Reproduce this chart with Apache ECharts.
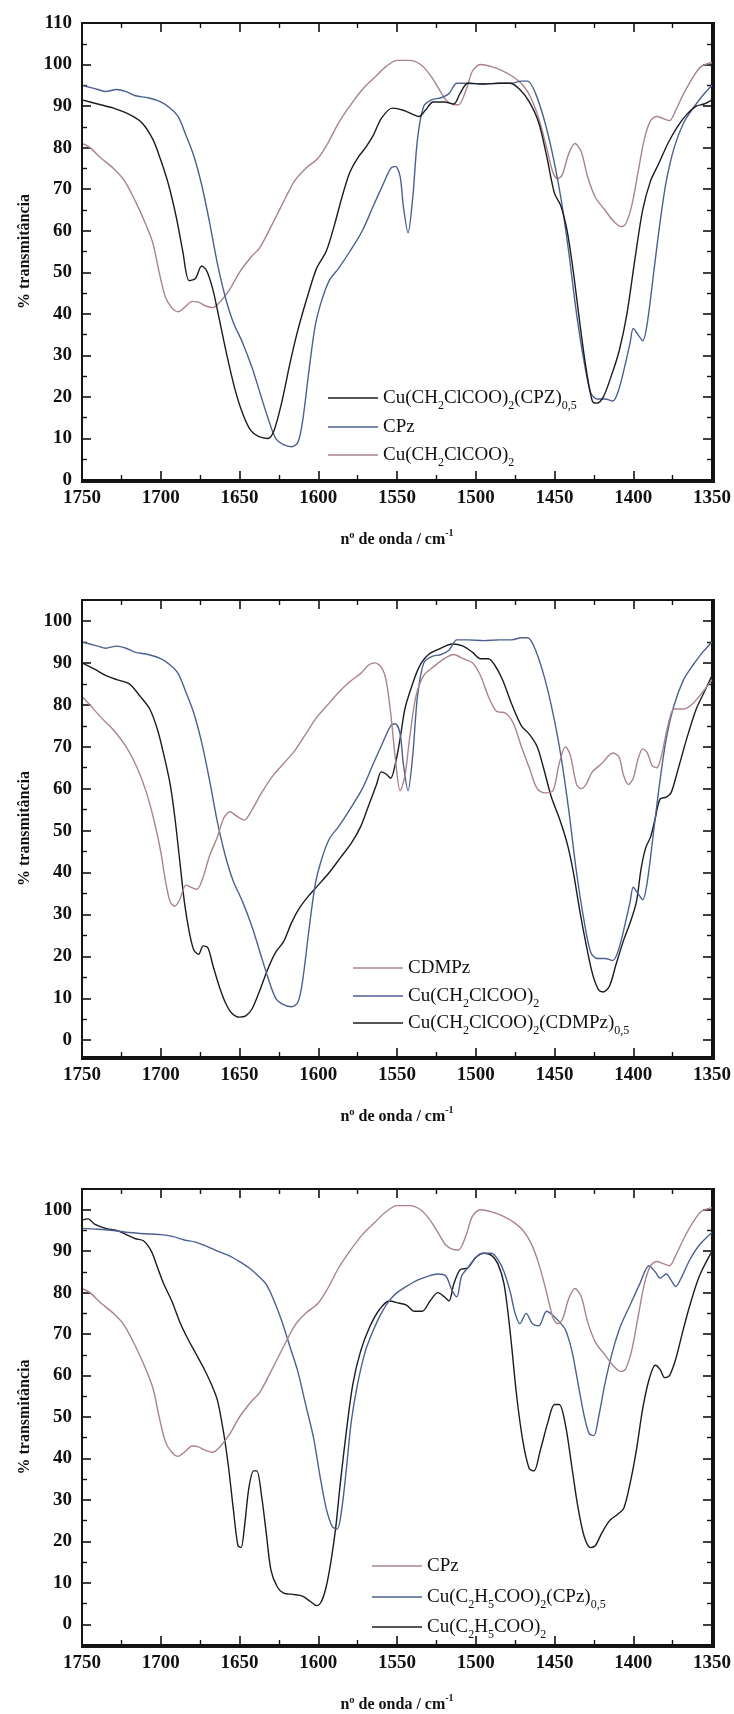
<!DOCTYPE html>
<html>
<head>
<meta charset="utf-8">
<script src="https://cdn.jsdelivr.net/npm/echarts@6/dist/echarts.min.js"></script>
<style>
html,body{margin:0;padding:0;background:#fff;}
#c{width:734px;height:1714px;}
</style>
</head>
<body>
<div id="c"></div>
<script>
// ---------- DATA (wavenumber cm-1, % transmittance) ----------
const xTicks = [1750, 1700, 1650, 1600, 1550, 1500, 1450, 1400, 1350];

// Cu(CH2ClCOO)2(CPZ)0,5  (panel 1, black)
const cuClAcCpzData = [[1750,91.5],[1740,90.5],[1730,89.5],[1720,88],[1712,86],[1705,82],[1700,77],[1695,71],[1690,63],[1686,55],[1682,48],[1678,48.5],[1674,51.5],[1671,50.5],[1667,46],[1663,39],[1658,30],[1653,22],[1648,16],[1643,12],[1638,10.5],[1632,10],[1628,12],[1623,19],[1618,28],[1613,36],[1607,44],[1601,51],[1595,55],[1590,61],[1585,68],[1580,74],[1575,77.5],[1570,80],[1565,83],[1560,87],[1553,89.5],[1546,89],[1540,88],[1536,87.5],[1532,89],[1527,91],[1520,91],[1514,90.5],[1510,93],[1505,95.5],[1495,95.3],[1485,95.5],[1478,95.5],[1472,94],[1466,91],[1460,86],[1455,78],[1450,69],[1446,66],[1442,60],[1438,50],[1434,38],[1430,27],[1426,19],[1423,18.5],[1419,20],[1414,25],[1409,31],[1404,40],[1399,53],[1394,65],[1389,72],[1384,76],[1378,81],[1372,85],[1366,88],[1360,90],[1355,90.5],[1350,91.5]];

// blue spectrum starting at 95 (panel 1 and panel 2)
const cuClAcData = [[1750,95],[1745,94.5],[1740,94],[1735,93.5],[1728,94],[1722,93.5],[1716,92.5],[1708,92],[1700,91],[1694,89.5],[1689,87.5],[1684,83],[1679,78],[1674,71],[1669,62],[1664,52],[1659,44],[1654,38],[1648,33],[1642,27],[1637,21],[1632,15],[1627,10],[1622,8.5],[1617,8],[1613,9],[1610,14],[1606,26],[1602,37],[1598,43],[1593,48],[1587,51],[1580,55],[1572,60],[1565,66],[1559,71],[1554,75],[1551,75.5],[1548,73],[1546,66],[1543,59.5],[1540,68],[1537,82],[1533,90],[1528,91.5],[1522,92],[1517,93],[1512,95.5],[1505,95.5],[1495,95.3],[1485,95.5],[1477,95.5],[1471,96],[1467,96],[1462,93],[1456,86],[1451,78],[1446,68],[1441,55],[1436,40],[1431,28],[1427,21],[1423,19.5],[1418,19.5],[1413,19],[1409,22],[1405,28],[1402,33],[1400,36.5],[1397,35],[1394,33.5],[1391,38],[1387,50],[1383,62],[1379,72],[1374,80],[1368,86],[1362,89.5],[1356,92.5],[1350,95]];

// light spectrum starting at 81 (panel 1 and panel 3)
const cpzData = [[1750,81],[1745,80],[1738,77.5],[1730,75],[1723,72],[1716,67],[1710,62],[1705,57],[1701,50],[1697,44],[1693,41.5],[1689,40.5],[1685,41.5],[1680,43],[1676,42.8],[1672,42],[1667,41.5],[1662,43],[1656,46],[1650,50],[1643,53.5],[1637,56],[1630,61],[1622,67],[1615,72],[1608,75],[1600,77.5],[1594,81],[1587,86],[1580,90],[1572,94],[1564,97],[1557,99.5],[1550,101],[1542,101],[1535,100],[1529,97.5],[1524,94.5],[1519,91.5],[1515,90.5],[1511,90.3],[1506,94],[1502,98.5],[1497,100],[1490,99.5],[1483,98.5],[1476,97],[1470,95],[1465,92],[1460,87],[1455,80],[1451,74],[1448,72.5],[1445,73.5],[1441,78.5],[1437,81],[1433,79],[1429,73],[1424,68],[1418,65],[1413,62.5],[1408,61],[1405,61.5],[1401,66],[1397,74],[1393,82],[1389,86.5],[1385,87.5],[1381,87],[1377,86.5],[1373,89],[1368,93],[1362,97],[1357,99.5],[1350,100.5]];

// CDMPz (panel 2, red)
const cdmpzData = [[1750,82],[1745,80],[1738,77],[1730,74],[1722,70],[1715,65],[1709,59],[1704,52],[1700,45],[1697,38],[1694,33],[1691,32],[1688,33.5],[1684,37],[1681,36.5],[1677,36],[1673,39],[1669,44],[1664,48.5],[1660,53],[1656,54.5],[1652,53.5],[1647,52.5],[1642,55],[1636,59],[1629,63],[1622,66],[1615,69],[1608,73],[1601,77],[1594,80],[1587,83],[1580,85.5],[1573,87.5],[1568,89.5],[1564,90],[1560,89],[1557,86],[1554,78],[1551,67],[1548,59.5],[1545,63],[1542,72],[1538,82],[1533,87],[1527,89],[1520,91],[1514,92],[1508,91],[1502,90],[1497,87],[1492,82],[1487,78.5],[1481,78],[1476,75.5],[1471,70],[1466,65],[1461,60],[1456,59],[1451,59.5],[1447,66],[1443,70],[1440,68],[1436,61],[1433,60],[1430,61],[1426,64],[1420,66],[1413,68.5],[1409,67.5],[1406,63],[1403,61],[1400,62.5],[1397,67],[1394,69.5],[1391,68.5],[1388,65.5],[1385,65],[1382,68],[1378,75],[1374,79],[1368,79],[1363,80],[1356,83],[1350,86]];

// Cu(CH2ClCOO)2(CDMPz)0,5 (panel 2, black)
const cuClAcCdmpzData = [[1750,90],[1742,88.5],[1735,87],[1728,86],[1720,85],[1713,82],[1707,79],[1702,74],[1698,68],[1694,61],[1691,53],[1688,43],[1685,33],[1682,26],[1679,21.5],[1676,20.5],[1673,22.5],[1670,22],[1667,18],[1663,13],[1659,9],[1655,6.5],[1650,5.5],[1646,5.8],[1642,7.5],[1637,12],[1632,17],[1627,21],[1622,23.5],[1617,28],[1612,31.5],[1606,34.5],[1600,37],[1593,40],[1586,43.5],[1579,47],[1573,51],[1568,56],[1563,61],[1560,64],[1557,63.5],[1554,62.5],[1551,66],[1548,72],[1545,79],[1541,84],[1536,89],[1530,92],[1522,93.5],[1515,94.5],[1508,94],[1502,92.5],[1497,91],[1492,91],[1488,89.5],[1483,86],[1477,80],[1471,75],[1466,73],[1461,70],[1457,65],[1452,58],[1447,53],[1442,47],[1438,40],[1434,31],[1430,23],[1426,16],[1422,12],[1419,11.5],[1415,13],[1411,18],[1406,24],[1402,28],[1398,33],[1395,41],[1392,46],[1389,48.5],[1386,53],[1383,57.5],[1379,58],[1376,59],[1372,64],[1366,72],[1360,79],[1355,83],[1350,87]];

// Cu(C2H5COO)2(CPz)0,5 (panel 3, blue)
const cuPropCpzData = [[1750,95.5],[1740,95.3],[1730,95],[1720,94.5],[1710,94.2],[1700,94],[1692,93.5],[1685,92.7],[1678,92.2],[1671,91.2],[1664,90],[1657,89],[1650,87.5],[1644,86],[1638,84],[1633,82],[1628,78],[1623,73],[1618,67],[1613,61],[1608,53],[1603,45],[1599,36],[1595,28],[1591,23.5],[1588,23],[1585,28],[1582,38],[1579,49],[1575,58],[1570,66],[1565,71],[1560,75],[1555,78],[1550,80],[1544,81.5],[1537,83],[1530,84],[1524,84.5],[1519,84],[1515,80.5],[1512,79],[1509,84],[1505,86],[1500,88.5],[1495,89.5],[1490,89.5],[1486,88],[1482,85],[1478,80],[1475,75],[1472,72.5],[1468,75],[1464,72.5],[1460,72],[1455,75.5],[1451,74.5],[1447,73],[1443,71],[1439,66],[1435,58],[1431,50],[1428,46],[1425,45.5],[1422,50],[1418,58],[1413,66],[1408,72],[1402,77],[1396,82],[1390,86.5],[1386,85],[1383,83.5],[1379,84.5],[1376,83],[1373,81.5],[1369,84],[1364,88],[1358,91.5],[1350,94.5]];

// Cu(C2H5COO)2 (panel 3, black)
const cuPropData = [[1750,97.5],[1746,97.8],[1742,96.5],[1735,95.5],[1728,95],[1722,94],[1716,93],[1711,92.5],[1706,90],[1702,86],[1698,82],[1693,78],[1688,73],[1683,69],[1678,65.5],[1673,62],[1668,58],[1664,54],[1660,46],[1657,38],[1654,28],[1651,19],[1649,18.5],[1647,23],[1644,33],[1641,37],[1639,37],[1636,31],[1633,22],[1630,13],[1626,9],[1622,7.5],[1616,7.2],[1610,6.8],[1605,5.5],[1601,4.5],[1598,5.5],[1595,9],[1592,15],[1589,23],[1586,34],[1582,47],[1578,58],[1573,66],[1567,72],[1561,76],[1555,78],[1549,77.5],[1544,77],[1539,75.5],[1534,75.5],[1529,78],[1524,80],[1520,79],[1517,78],[1514,82],[1510,85.5],[1505,86],[1500,88.5],[1495,89.5],[1490,89],[1486,87],[1482,82],[1478,70],[1474,55],[1470,44],[1466,37.5],[1463,37],[1459,42],[1454,49],[1450,53],[1447,53],[1443,48],[1439,38],[1435,28],[1431,21],[1427,18.5],[1424,19],[1420,22],[1415,25],[1410,26.5],[1406,28],[1402,34],[1398,42],[1394,52],[1390,59],[1386,62.5],[1383,61.5],[1380,59.5],[1377,60],[1373,64],[1369,70],[1364,77],[1358,84],[1350,90]];

const yTicksP1 = [0,10,20,30,40,50,60,70,80,90,100,110];
const yTicksP23 = [0,10,20,30,40,50,60,70,80,90,100];

const legendLabels = {
  p1a: '{n|Cu(CH}{s|2}{n|ClCOO)}{s|2}{n|(CPZ)}{s|0,5}',
  p1b: '{n|CPz}{s| }',
  p1c: '{n|Cu(CH}{s|2}{n|ClCOO)}{s|2}',
  p2a: '{n|CDMPz}{s| }',
  p2b: '{n|Cu(CH}{s|2}{n|ClCOO)}{s|2}',
  p2c: '{n|Cu(CH}{s|2}{n|ClCOO)}{s|2}{n|(CDMPz)}{s|0,5}',
  p3a: '{n|CPz}{s| }',
  p3b: '{n|Cu(C}{s|2}{n|H}{s|5}{n|COO)}{s|2}{n|(CPz)}{s|0,5}',
  p3c: '{n|Cu(C}{s|2}{n|H}{s|5}{n|COO)}{s|2}'
};

// ---------- LAYOUT ----------
const FONT = '"Liberation Serif", "Times New Roman", serif';
const BLACK = '#1b1b22', BLUE = '#4c6090', RED = '#ab838d';
const panels = [
  {top: 23, height: 457, min: 0, max: 110, ticks: yTicksP1,
   minor: [5,15,25,35,45,55,65,75,85,95,105],
   series: [['p1a', cuClAcCpzData, BLACK], ['p1b', cuClAcData, BLUE], ['p1c', cpzData, RED]],
   legendLeft: 328, legendRows: [398, 427, 455]},
  {top: 600, height: 457, min: -4, max: 105, ticks: yTicksP23,
   minor: [5,15,25,35,45,55,65,75,85,95],
   series: [['p2a', cdmpzData, RED], ['p2b', cuClAcData, BLUE], ['p2c', cuClAcCdmpzData, BLACK]],
   legendLeft: 353, legendRows: [968, 996, 1023]},
  {top: 1189, height: 456, min: -5, max: 105, ticks: yTicksP23,
   minor: [5,15,25,35,45,55,65,75,85,95],
   series: [['p3a', cpzData, RED], ['p3b', cuPropCpzData, BLUE], ['p3c', cuPropData, BLACK]],
   legendLeft: 372, legendRows: [1566, 1597, 1627]}
];
const GRID_LEFT = 82, GRID_WIDTH = 630;

const grid = [], xAxis = [], yAxis = [], series = [], legend = [], graphicEls = [];
const tickColor = '#111';
const axisLineStyle = {color: tickColor, width: 2};
const richLegend = {
  n: {fontFamily: FONT, fontSize: 19, color: '#111', lineHeight: 27},
  s: {fontFamily: FONT, fontSize: 12, color: '#111', lineHeight: 12, padding: [15, 0, 0, 0]}
};

panels.forEach((p, g) => {
  grid.push({left: GRID_LEFT, width: GRID_WIDTH, top: p.top, height: p.height, containLabel: false});
  // plot frame
  graphicEls.push({
    type: 'rect', z: 100, silent: true, left: GRID_LEFT - 1, top: p.top - 1,
    shape: {x: 0, y: 0, width: GRID_WIDTH + 2, height: p.height + 2},
    style: {fill: 'rgba(0,0,0,0)', stroke: '#151515', lineWidth: 2}
  });
  const mkX = (pos, withLabel) => {
    const ax = {
      gridIndex: g, type: 'value', position: pos, inverse: true, min: 1350, max: 1750, interval: 50,
      axisLine: {show: true, onZero: false, lineStyle: {color: tickColor, width: 2}},
      axisTick: {show: true, inside: true, length: 9, lineStyle: {color: tickColor, width: 1.6}},
      minorTick: {show: true, splitNumber: 2, length: 5, lineStyle: {color: tickColor, width: 1.4}},
      splitLine: {show: false},
      axisLabel: withLabel
        ? {show: true, margin: 9, fontFamily: FONT, fontSize: 19, fontWeight: 'bold', color: '#111',
           formatter: (v) => String(v)}
        : {show: false}
    };
    if (withLabel) {
      Object.assign(ax, {
        name: '{n|nº de onda / cm}{sup|-1}', nameLocation: 'middle', nameGap: 48,
        nameTextStyle: {rich: {
          n: {fontFamily: FONT, fontSize: 16, fontWeight: 'bold', color: '#111', lineHeight: 20, verticalAlign: 'bottom'},
          sup: {fontFamily: FONT, fontSize: 10, fontWeight: 'bold', color: '#111', lineHeight: 12, verticalAlign: 'top'}
        }}
      });
    }
    return ax;
  };
  xAxis.push(mkX('bottom', true), mkX('top', false));

  const yMajor = (pos, withLabel) => ({
    gridIndex: g, type: 'value', position: pos, min: p.min, max: p.max,
    axisLine: {show: true, onZero: false, lineStyle: {color: tickColor, width: 2}},
    axisTick: {show: true, inside: true, length: 9, customValues: p.ticks, lineStyle: {color: tickColor, width: 1.6}},
    axisLabel: withLabel
      ? {show: true, customValues: p.ticks, margin: 10, fontFamily: FONT, fontSize: 19, fontWeight: 'bold', color: '#111'}
      : {show: false},
    splitLine: {show: false}
  });
  const yMinor = (pos) => ({
    gridIndex: g, type: 'value', position: pos, min: p.min, max: p.max,
    axisLine: {show: false, onZero: false},
    axisTick: {show: true, inside: true, length: 5, customValues: p.minor, lineStyle: {color: tickColor, width: 1.4}},
    axisLabel: {show: false}, splitLine: {show: false}
  });
  const ymain = Object.assign(yMajor('left', true), {
    name: '% transmitância', nameLocation: 'middle', nameGap: 47, nameRotate: 90,
    nameTextStyle: {fontFamily: FONT, fontSize: 16, fontWeight: 'bold', color: '#111'}
  });
  yAxis.push(ymain, yMajor('right', false), yMinor('left'), yMinor('right'));

  p.series.forEach((s, k) => {
    series.push({
      name: s[0], type: 'line', xAxisIndex: 2 * g, yAxisIndex: 4 * g,
      data: s[1], showSymbol: false, symbol: 'none', smooth: 0.3,
      lineStyle: {color: s[2], width: 1.4}, itemStyle: {color: s[2]},
      animation: false, z: 3 - k
    });
    legend.push({
      data: [s[0]], left: p.legendLeft, top: p.legendRows[k] - 13.5, padding: 0,
      icon: 'rect', itemWidth: 50, itemHeight: 1.4, itemGap: 0,
      selectedMode: false,
      formatter: (name) => legendLabels[name],
      textStyle: {fontFamily: FONT, fontSize: 19, color: '#111', rich: richLegend}
    });
  });
  // empty helper series so the top / right / minor-tick axes are bound and drawn
  [[2 * g + 1, 4 * g + 1], [2 * g, 4 * g + 2], [2 * g + 1, 4 * g + 3]].forEach((ix, j) => {
    series.push({
      name: '_axis' + g + '_' + j, type: 'line', xAxisIndex: ix[0], yAxisIndex: ix[1],
      data: [], silent: true, showSymbol: false, animation: false
    });
  });
});

const chart = echarts.init(document.getElementById('c'), null, {renderer: 'canvas'});
chart.setOption({
  backgroundColor: '#ffffff',
  animation: false,
  grid, xAxis, yAxis, series, legend,
  graphic: {elements: graphicEls}
});
</script>
</body>
</html>
